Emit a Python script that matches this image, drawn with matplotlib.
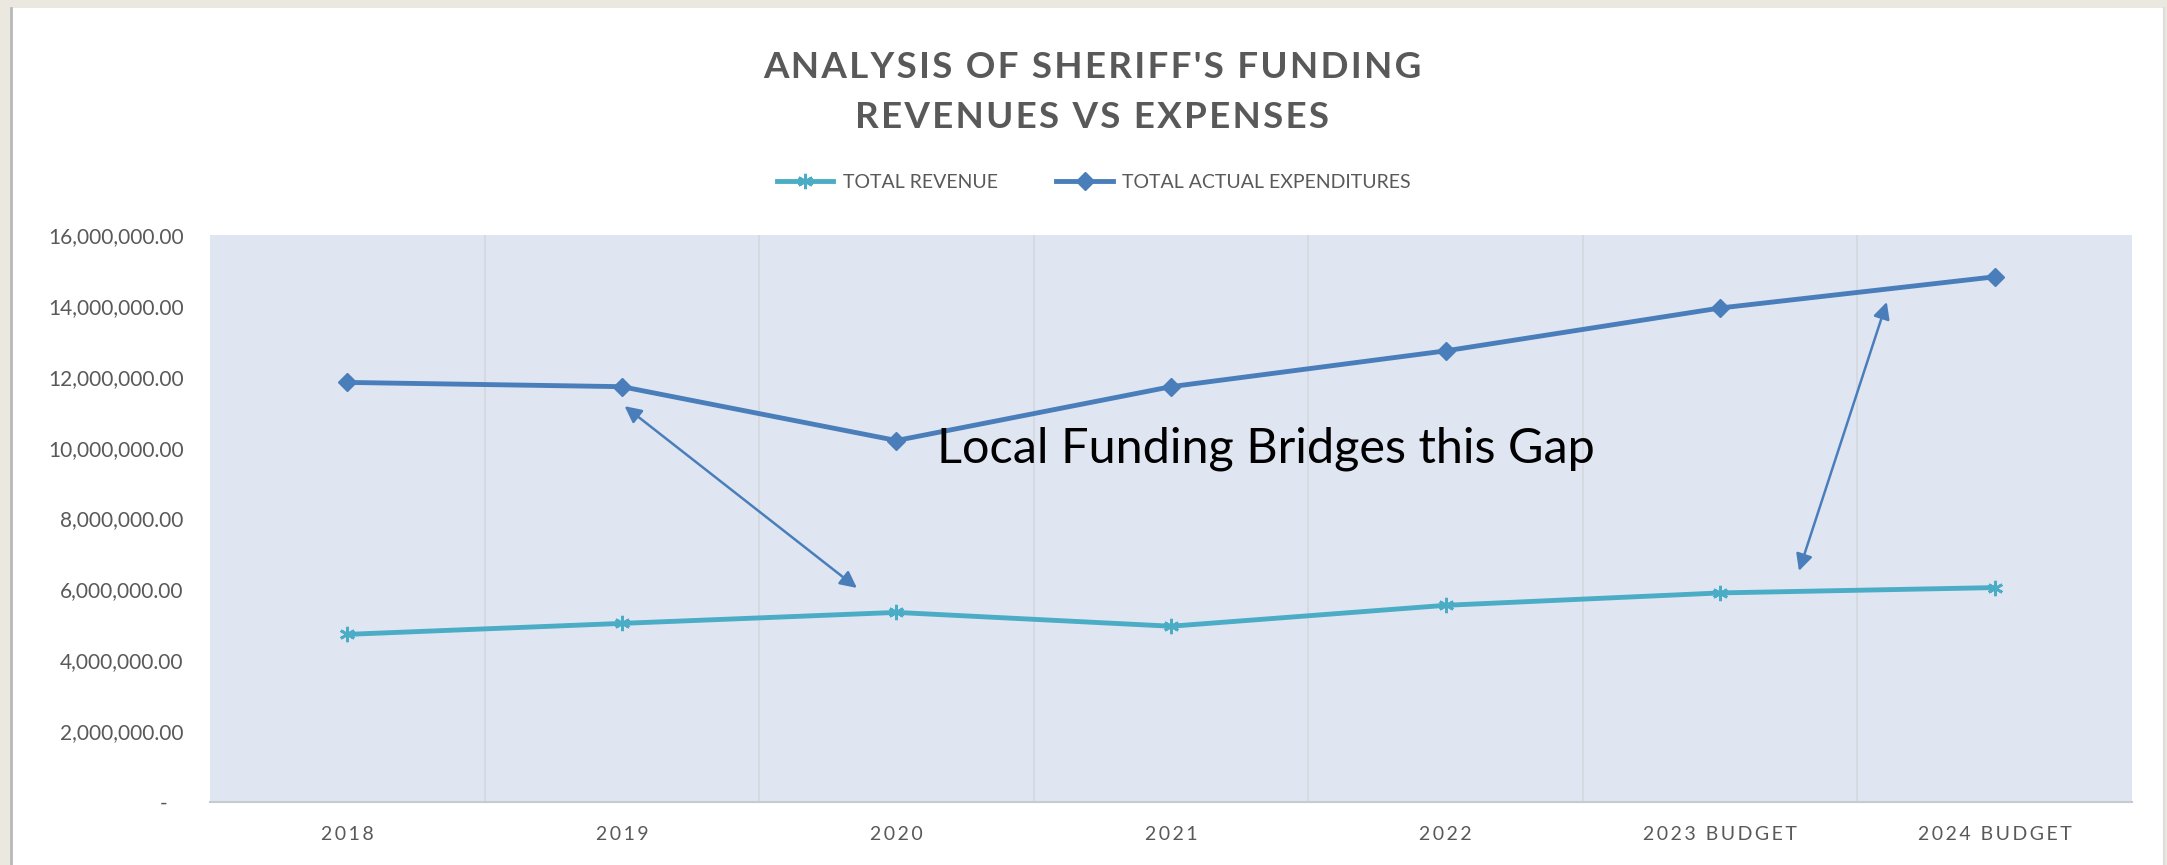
import matplotlib
matplotlib.use("Agg")
import matplotlib.pyplot as plt
from matplotlib.patches import Rectangle
from matplotlib.lines import Line2D
from matplotlib.ticker import FuncFormatter, MultipleLocator

# ---- data ----
categories = ['2018', '2019', '2020', '2021', '2022', '2023 BUDGET', '2024 BUDGET']
total_revenue = [4.73e6, 5.04e6, 5.35e6, 4.96e6, 5.55e6, 5.90e6, 6.05e6]
total_expenditures = [11.84e6, 11.72e6, 10.20e6, 11.72e6, 12.73e6, 13.94e6, 14.82e6]
series_names = ['TOTAL REVENUE', 'TOTAL ACTUAL EXPENDITURES']
title_lines = ["ANALYSIS OF SHERIFF'S FUNDING", "REVENUES VS EXPENSES"]
note_text = 'Local Funding Bridges this Gap'
arrow1 = ((1.01, 11.17e6), (1.856, 6.04e6))
arrow2 = ((5.607, 14.11e6), (5.287, 6.52e6))
note_pos = (2.147, 9.57e6)

FAM = ['Lato', 'DejaVu Sans']
GRAY = '#595959'
C_REV = '#4bacc6'
C_EXP = '#4a7ebb'

def spaced(s, sep='\u2009'):
    return sep.join(s)

W, H = 2167, 865
fig = plt.figure(figsize=(W / 100, H / 100), dpi=100)
fig.patch.set_facecolor('#ebe8e0')

# white chart panel
fig.patches.append(Rectangle((12 / W, 0), (2163 - 12) / W, 1 - 8 / H,
                             transform=fig.transFigure, facecolor='white',
                             edgecolor='none', zorder=-2))
fig.lines.append(Line2D([11 / W, 11 / W], [0, 1 - 8 / H], transform=fig.transFigure,
                        color='#b9b9b9', lw=2, zorder=-1))
fig.lines.append(Line2D([2164 / W, 2164 / W], [0, 1 - 8 / H], transform=fig.transFigure,
                        color='#dcdcdc', lw=1.5, zorder=-1))

left, right, top, bottom = 210, 2132, 235, 802
ax = fig.add_axes([left / W, 1 - bottom / H, (right - left) / W, (bottom - top) / H])
ax.set_zorder(1)
ax.set_facecolor('#dfe6f2')

x = list(range(len(categories)))
ax.plot(x, total_revenue, color=C_REV, lw=3.5, marker=(6, 2, 0), markersize=11,
        markeredgewidth=2, markeredgecolor=C_REV, label=series_names[0], zorder=3)
ax.plot(x, total_expenditures, color=C_EXP, lw=3.5, marker='D', markersize=9.5,
        markeredgecolor=C_EXP, markerfacecolor=C_EXP, label=series_names[1], zorder=3)

ax.set_xlim(-0.5, len(categories) - 0.5)
ax.set_ylim(0, 16e6)
ax.yaxis.set_major_locator(MultipleLocator(2e6))
ax.yaxis.set_major_formatter(FuncFormatter(lambda v, p: '-   ' if abs(v) < 1 else f'{v:,.2f}'))
ax.set_xticks(x)
ax.set_xticklabels([spaced(c) for c in categories])

# vertical gridlines between categories
for b in [i + 0.5 for i in range(len(categories) - 1)]:
    ax.axvline(b, color='#d3d7dd', lw=1.2, zorder=1)

for s in ['top', 'left', 'right']:
    ax.spines[s].set_visible(False)
ax.spines['bottom'].set_color('#c5cad3')
ax.spines['bottom'].set_linewidth(1.5)

ax.tick_params(axis='both', length=0)
ax.tick_params(axis='y', pad=19, labelsize=15, labelcolor=GRAY)
ax.tick_params(axis='x', pad=17, labelsize=14, labelcolor=GRAY)
for lab in ax.get_xticklabels() + ax.get_yticklabels():
    lab.set_family(FAM)

# arrows
for (p1, p2) in (arrow1, arrow2):
    ax.annotate('', xy=p2, xytext=p1,
                arrowprops=dict(arrowstyle='<|-|>', color=C_EXP, lw=1.8,
                                mutation_scale=25, shrinkA=0, shrinkB=0), zorder=4)

ax.text(note_pos[0], note_pos[1], note_text, fontsize=35, color='black',
        family=FAM, va='baseline', ha='left', zorder=5)

# titles
fig.text(1092 / W, 1 - 67 / H, spaced(title_lines[0], '\u200a'), ha='center', va='center',
         fontsize=26.5, fontweight='bold', color=GRAY, family=FAM, zorder=3)
fig.text(1092 / W, 1 - 118 / H, spaced(title_lines[1], '\u200a'), ha='center', va='center',
         fontsize=26.5, fontweight='bold', color=GRAY, family=FAM, zorder=3)

# legend
leg = fig.legend(loc='center', bbox_to_anchor=(1094 / W, 1 - 182 / H), ncol=2,
                 frameon=False, handlelength=2.9, handletextpad=0.5,
                 columnspacing=3.0, prop={'family': FAM, 'size': 14})
leg.set_zorder(3)
for t in leg.get_texts():
    t.set_color(GRAY)

fig.savefig('out.png', dpi=100, facecolor=fig.get_facecolor())
